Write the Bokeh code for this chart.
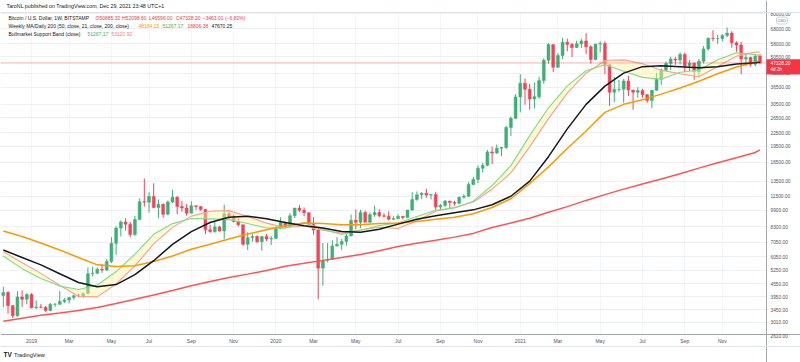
import pandas as pd
from bokeh.plotting import figure
from bokeh.models import (ColumnDataSource, Range1d, FixedTicker, NumeralTickFormatter,
                          CustomJSTickFormatter, Label, Span, BoxAnnotation)
from bokeh.embed import file_html
from bokeh.resources import INLINE

# ---------------- data (weekly BTC/USD, Bitstamp) ----------------
first_bar = "2018-11-26"
opens = [
    4010, 4140, 3600, 3230, 3950, 3850,
    4050, 3520, 3550, 3540, 3420, 3650, 3650, 3760, 3820, 3920, 4000, 3990, 4100, 5050, 5080, 5290,
    5250, 5750, 6980, 8200, 8750, 8550, 7650, 8980, 10850, 10800, 11470, 10200, 10550, 9500, 10820,
    11390, 10300, 10140, 9600, 10400, 10300, 10000, 8050, 7900, 8300, 7950, 9550, 9300, 8800, 8500,
    6900, 7400, 7500, 7100, 7500, 7300,
    7350, 8180, 8700, 8350, 9350, 10150, 9900, 9650, 8520, 8030, 5360, 5820, 5880, 6780, 6900, 7120,
    7540, 8900, 8720, 9680, 8720, 9450, 9670, 9340, 9300, 9010, 9070, 9290, 9170, 9930, 11100, 11680,
    11860, 11660, 11700, 10260, 10440, 10920, 10770, 10670, 11380, 11500, 13030, 13750, 15480, 15960,
    18400, 18200, 19150, 19270, 23860, 26300,
    33000, 38200, 35800, 32300, 33100, 39250, 48700, 57500, 45200, 51200, 59000, 57600, 55800, 58000,
    59800, 56200, 49100, 57800, 58250, 46400, 34700, 35700, 35800, 39100, 35500, 34700, 35300, 33800,
    31800, 35400, 39850, 43800, 47000, 49300, 48800, 51800, 46000, 47250, 43200, 48200, 54950, 61500,
    61300, 61300, 63300, 65000, 58600, 57300, 49400, 50100, 46700, 50885.32,
]
highs = [
    4400, 4200, 3620, 4200, 4230, 4100,
    4110, 3800, 3670, 3590, 3700, 3700, 4200, 3900, 3950, 4050, 4090, 4150, 5400, 5450, 5400, 5620,
    5900, 7450, 8350, 8900, 9100, 8750, 9330, 11250, 13880, 12000, 13200, 11100, 10650, 11000, 12300,
    11500, 10950, 10600, 10900, 10450, 10350, 10050, 8500, 8800, 8400, 10500, 9950, 9500, 9100, 8500,
    7850, 7750, 7600, 7500, 7700, 7550,
    8450, 9200, 8800, 9600, 10150, 10500, 10200, 9700, 9200, 8200, 7000, 7000, 7200, 7450, 7300, 7750,
    9450, 10000, 9950, 9850, 9700, 10400, 10000, 9600, 9800, 9300, 9500, 9300, 9950, 12000, 12100,
    12000, 12450, 11750, 12050, 10600, 11050, 10950, 10950, 11450, 11750, 13350, 14100, 15950, 16400,
    18800, 19450, 19900, 19400, 24300, 26800, 34000,
    41950, 40100, 37900, 38500, 40950, 49700, 58350, 57500, 52600, 61800, 61200, 58500, 60000, 61200,
    64900, 57000, 58000, 59600, 59500, 46650, 40800, 39500, 40000, 41300, 35500, 36600, 35950, 34000,
    35400, 42600, 44700, 48100, 50500, 50450, 52900, 52800, 48850, 47400, 49300, 56600, 62000, 67000,
    63800, 64300, 69000, 66300, 59500, 59200, 51900, 50600, 51900, 52098.60,
]
lows = [
    3550, 3300, 3150, 3200, 3550, 3650,
    3500, 3480, 3500, 3370, 3390, 3550, 3640, 3700, 3680, 3830, 3940, 3900, 4080, 4900, 5030, 5100,
    5200, 5650, 6180, 7500, 8000, 7450, 7550, 8970, 10300, 9650, 10100, 9100, 9150, 9400, 10700,
    9500, 9750, 9350, 9600, 9950, 9850, 7700, 7800, 7800, 7900, 7300, 8950, 8700, 8350, 6800,
    6500, 7080, 7000, 6450, 7150, 6850,
    7350, 8100, 8250, 8250, 9130, 9700, 9300, 8450, 7650, 3850, 4450, 5700, 5850, 6750, 6500, 6800,
    7530, 8100, 8200, 8800, 8650, 9250, 9200, 9200, 8900, 8950, 9050, 9000, 9150, 9850, 10950,
    11150, 11300, 11100, 9900, 9900, 10250, 10150, 10400, 10550, 11200, 11400, 12900, 13200, 14800,
    15800, 16200, 18000, 17600, 19000, 21800, 26100,
    28000, 30400, 28800, 29200, 32300, 37900, 47000, 43000, 45000, 49300, 53600, 50400, 55500, 55500,
    52000, 47000, 48700, 52900, 42000, 30000, 31200, 34800, 31000, 33300, 28800, 32700, 32700, 31000,
    29300, 35300, 37500, 43000, 43900, 46400, 46500, 42800, 43400, 39600, 40800, 47100, 53900, 59500,
    58000, 59500, 62300, 55600, 53300, 42000, 45700, 45500, 45600, 46596.00,
]
closes = [
    4140, 3600, 3230, 3950, 3850, 4050,
    3520, 3550, 3540, 3420, 3650, 3650, 3760, 3820, 3920, 4000, 3990, 4100, 5050, 5080, 5290, 5250,
    5750, 6980, 8200, 8750, 8550, 7650, 8980, 10850, 10800, 11470, 10200, 10550, 9500, 10820, 11390,
    10300, 10140, 9600, 10400, 10300, 10000, 8050, 7900, 8300, 7950, 9550, 9300, 8800, 8500, 6900,
    7400, 7500, 7100, 7500, 7300, 7350,
    8180, 8700, 8350, 9350, 10150, 9900, 9650, 8520, 8030, 5360, 5820, 5880, 6780, 6900, 7120, 7540,
    8900, 8720, 9680, 8720, 9450, 9670, 9340, 9300, 9010, 9070, 9290, 9170, 9930, 11100, 11680, 11860,
    11660, 11700, 10260, 10440, 10920, 10770, 10670, 11380, 11500, 13030, 13750, 15480, 15960, 18400,
    18200, 19150, 19270, 23860, 26300, 33000,
    38200, 35800, 32300, 33100, 39250, 48700, 57500, 45200, 51200, 59000, 57600, 55800, 58000, 59800,
    56200, 49100, 57800, 58250, 46400, 34700, 35700, 35800, 39100, 35500, 34700, 35300, 33800, 31800,
    35400, 39850, 43800, 47000, 49300, 48800, 51800, 46000, 47250, 43200, 48200, 54950, 61500, 61300,
    61300, 63300, 65000, 58600, 57300, 49400, 50100, 46700, 50885.32, 47328.20,
]

ma_dates = [
    "2018-11-26", "2018-12-24", "2019-01-21", "2019-02-18", "2019-03-18", "2019-04-15", "2019-05-13",
    "2019-06-10", "2019-07-08", "2019-08-05", "2019-09-02", "2019-09-30", "2019-10-28", "2019-11-25",
    "2019-12-23", "2020-01-20", "2020-02-17", "2020-03-16", "2020-04-13", "2020-05-11", "2020-06-08",
    "2020-07-06", "2020-08-03", "2020-08-31", "2020-09-28", "2020-10-26", "2020-11-23", "2020-12-21",
    "2021-01-18", "2021-02-15", "2021-03-15", "2021-04-12", "2021-05-10", "2021-06-07", "2021-07-05",
    "2021-08-02", "2021-08-30", "2021-09-27", "2021-10-25", "2021-11-22", "2021-12-20", "2021-12-27",
]
sma_50w = [7950, 7500, 7000, 6500, 6000, 5550, 5450, 5500, 5750, 6100, 6550, 6900, 7300, 7700,
           8050, 8400, 8650, 8600, 8500, 8500, 8600, 8650, 8800, 9000, 9200, 9550, 10200, 11200,
           13150, 15700, 19100, 23000, 28000, 30500, 32000, 34000, 36300, 39000, 42200, 45300,
           47800, 48184.15]
ema_21w = [6100, 5330, 4800, 4430, 4270, 4480, 5170, 6220, 7680, 8600, 9080, 9040, 8970, 8610,
           8210, 8200, 8700, 8100, 7660, 8010, 8430, 8660, 9270, 9910, 10160, 10910, 12880, 15910,
           21890, 29410, 37130, 43570, 46480, 43310, 40600, 39830, 42860, 43910, 49000, 52720,
           51620, 51267.17]
sma_20w = [6380, 5670, 5070, 4470, 3980, 3950, 4530, 5490, 6930, 8260, 9310, 9810, 9870, 9280,
           8640, 8250, 8390, 8020, 7770, 8040, 8270, 8160, 8860, 9800, 10200, 10820, 12390, 14730,
           19420, 26210, 34370, 42460, 48610, 48910, 46950, 43840, 42200, 40850, 45540, 50780,
           53090, 53120.92]
sma_200w = [3050, 3150, 3250, 3330, 3420, 3530, 3680, 3850, 4030, 4230, 4450, 4650, 4850, 5030,
            5230, 5470, 5650, 5820, 6000, 6200, 6450, 6750, 6980, 7200, 7450, 7750, 8250, 8650,
            9100, 9700, 10300, 11000, 11700, 12400, 13100, 13800, 14600, 15500, 16400, 17300,
            18300, 18806.38]
sma_200d = [6500, 6000, 5550, 5050, 4600, 4400, 4500, 5000, 5800, 6900, 7900, 8700, 9200, 9300,
            9050, 8700, 8400, 8200, 7900, 7850, 8100, 8550, 9000, 9350, 9650, 9950, 10500, 11500,
            13500, 17500, 23500, 30500, 37000, 42500, 45500, 46000, 45500, 45000, 45500, 46800,
            47400, 47670.25]

y_ticks = [80000, 68000, 58000, 50500, 42500, 36500, 30500, 26500, 22500, 19500, 16500, 13500,
           11500, 9900, 8300, 7050, 6050, 5250, 4550, 3950, 3450, 3010, 2610]
x_tick_dates = ["2019-01-07", "2019-03-04", "2019-05-06", "2019-07-01", "2019-09-02", "2019-11-04",
                "2020-01-06", "2020-03-02", "2020-05-04", "2020-07-06", "2020-09-07", "2020-11-02",
                "2021-01-04", "2021-03-01", "2021-05-03", "2021-07-05", "2021-09-06", "2021-11-01"]
x_tick_labels = ["2019", "Mar", "May", "Jul", "Sep", "Nov", "2020", "Mar", "May", "Jul", "Sep", "Nov",
                 "2021", "Mar", "May", "Jul", "Sep", "Nov"]

# ---------------- layout / styling ----------------
UP, DOWN = "#3fae77", "#ee4558"
FONT = "Liberation Sans"
TXT = "#131722"
W, H = 800, 362
WEEK_MS = 7 * 24 * 3600 * 1000
PX_PER_DAY = 4.6997 / 7                      # horizontal scale of the chart
T0 = pd.Timestamp("2018-11-21 19:00")        # time at the left edge
T_END = T0 + pd.Timedelta(days=W / PX_PER_DAY)
T_AXIS = T0 + pd.Timedelta(days=766 / PX_PER_DAY)   # price-scale position
Y_TOP, Y_BOT = 91840, 1968.4                 # log range covering the whole canvas
Y_AXIS = 2650                                # time-scale position
Y_PANE_TOP = 80854
TAG_TOP, TAG_BOT = 49250, 41865              # vertical extent of the last-price tag

dates = pd.date_range(first_bar, periods=len(closes), freq="7D")
colors = [UP if c >= o else DOWN for o, c in zip(opens, closes)]
src = ColumnDataSource(dict(
    x=dates, o=opens, h=highs, l=lows, c=closes,
    top=[max(o, c) for o, c in zip(opens, closes)],
    bottom=[min(o, c) for o, c in zip(opens, closes)],
    color=colors))
ma_x = pd.to_datetime(ma_dates)

p = figure(frame_width=W, frame_height=H, x_axis_type="datetime", y_axis_type="log",
           y_axis_location="right", x_range=Range1d(T0, T_END), y_range=Range1d(Y_BOT, Y_TOP),
           output_backend="svg", toolbar_location=None,
           min_border_left=0, min_border_right=0, min_border_top=0, min_border_bottom=0,
           outline_line_color=None, background_fill_color="white", border_fill_color="white")

# grid
p.ygrid.grid_line_color = "#eef0f5"
p.xgrid.grid_line_color = "#f3f5f9"

# axes placed inside the canvas, like TradingView's price / time scales
for ax in (p.xaxis[0], p.yaxis[0]):
    ax.major_tick_line_color = None
    ax.minor_tick_line_color = None
    ax.major_tick_out = 0
    ax.major_tick_in = 0
    ax.minor_tick_out = 0
    ax.axis_line_color = "#a3a6af"
    ax.major_label_text_font = FONT
    ax.major_label_text_color = "#50535e"
p.yaxis.fixed_location = T_AXIS.value / 1e6
p.xaxis.fixed_location = Y_AXIS
p.yaxis.major_label_text_font_size = "4.8px"
p.xaxis.major_label_text_font_size = "5px"
p.yaxis.ticker = FixedTicker(ticks=y_ticks)
p.yaxis.formatter = NumeralTickFormatter(format="0.00")
p.yaxis.major_label_standoff = 4
tick_ms = [pd.Timestamp(d).value / 1e6 for d in x_tick_dates]
p.xaxis.ticker = FixedTicker(ticks=tick_ms)
p.xaxis.formatter = CustomJSTickFormatter(args=dict(tvals=tick_ms, tlabs=x_tick_labels), code="""
    let best = 0, bd = Infinity;
    for (let i = 0; i < tvals.length; i++) {
        const d = Math.abs(tvals[i] - tick);
        if (d < bd) { bd = d; best = i; }
    }
    return tlabs[best];
""")
p.xaxis.major_label_standoff = 4

# white margins over the grid (header strip, price scale, time scale)
for kw in (dict(left=T_AXIS), dict(top=Y_AXIS), dict(bottom=Y_PANE_TOP)):
    p.add_layout(BoxAnnotation(fill_color="white", fill_alpha=1, line_color=None,
                               level="underlay", **kw))
p.add_layout(Span(location=Y_PANE_TOP, dimension="width", line_color="#e0e3eb", line_width=1))
p.add_layout(Span(location=2333.6, dimension="width", line_color="#e0e3eb", line_width=1))

# candles
p.segment(x0="x", y0="l", x1="x", y1="h", line_color="color", line_width=1, source=src)
p.vbar(x="x", width=0.62 * WEEK_MS, top="top", bottom="bottom", fill_color="color",
       line_color="color", line_width=0.5, source=src)

# bull market support band + moving averages
p.varea(x=ma_x, y1=ema_21w, y2=sma_20w, fill_color="#fff59d", fill_alpha=0.45)
p.line(ma_x, sma_20w, line_color="#f9a08b", line_width=1.1)
p.line(ma_x, ema_21w, line_color="#7bdc8a", line_width=1.1)
p.line(ma_x, sma_200w, line_color="#ff5252", line_width=1.5)
p.line(ma_x, sma_50w, line_color="#ff9800", line_width=1.5)
p.line(ma_x, sma_200d, line_color=TXT, line_width=1.5)

# last price line
p.add_layout(Span(location=closes[-1], dimension="width", line_color="#f23645",
                  line_alpha=0.4, line_width=1))

def lab(x, y, text, color, size="5px", **kw):
    p.add_layout(Label(x=x, y=y, x_units="screen", y_units="screen", text=text,
                       text_color=color, text_font=FONT, text_font_size=size,
                       text_baseline="middle", **kw))

# header and logo
lab(6, H - 5, "TaroNL published on TradingView.com, Dec 29, 2021 23:48 UTC+1", TXT, "5.3px")
lab(3, H - 354, "TV", TXT, "6.5px", text_font_style="bold")
lab(13.5, H - 354, "TradingView", TXT, "5.6px")

# legend
L1, L2, L3 = H - 17.3, H - 25.7, H - 33.3
lab(8, L1, "Bitcoin / U.S. Dollar, 1W, BITSTAMP", TXT)
for x, t in [(95, "O50885.32"), (121.5, "H52098.60"), (148.5, "L46596.00"), (175.5, "C47328.20"),
             (202, "\u22123463.01 (\u22126.82%)")]:
    lab(x, L1, t, "#f23645")
lab(8, L2, "Weekly MA/Daily 200 (50, close, 21, close, 200, close)", TXT)
for x, t, c in [(138, "48184.15", "#ff9800"), (162, "51267.17", "#4caf50"),
                (187, "18806.38", "#f23645"), (211, "47670.25", TXT)]:
    lab(x, L2, t, c)
lab(8, L3, "Bullmarket Support Band (close)", TXT)
lab(87, L3, "51267.17", "#4caf50")
lab(111, L3, "53120.92", "#f77c80")

# last-price tag on the price scale
p.add_layout(BoxAnnotation(left=T_AXIS, right=T_END, top=TAG_TOP, bottom=TAG_BOT,
                           fill_color="#f23645", fill_alpha=1, line_color=None))
p.add_layout(Label(x=770, y=closes[-1], x_units="screen", y_units="data", text="47328.20",
                   text_color="white", text_font=FONT, text_font_size="4.8px",
                   text_baseline="middle"))
p.add_layout(Label(x=770, y=closes[-1], x_units="screen", y_units="data", text="4d 2h",
                   text_color="white", text_font=FONT, text_font_size="4.5px",
                   text_baseline="middle", y_offset=-7))
lab(776, H - 20, "USD", "#787b86", "4.2px", border_line_color="#d1d4dc",
    border_radius=2, padding=1)

open("out.html", "w").write(file_html(p, INLINE))
